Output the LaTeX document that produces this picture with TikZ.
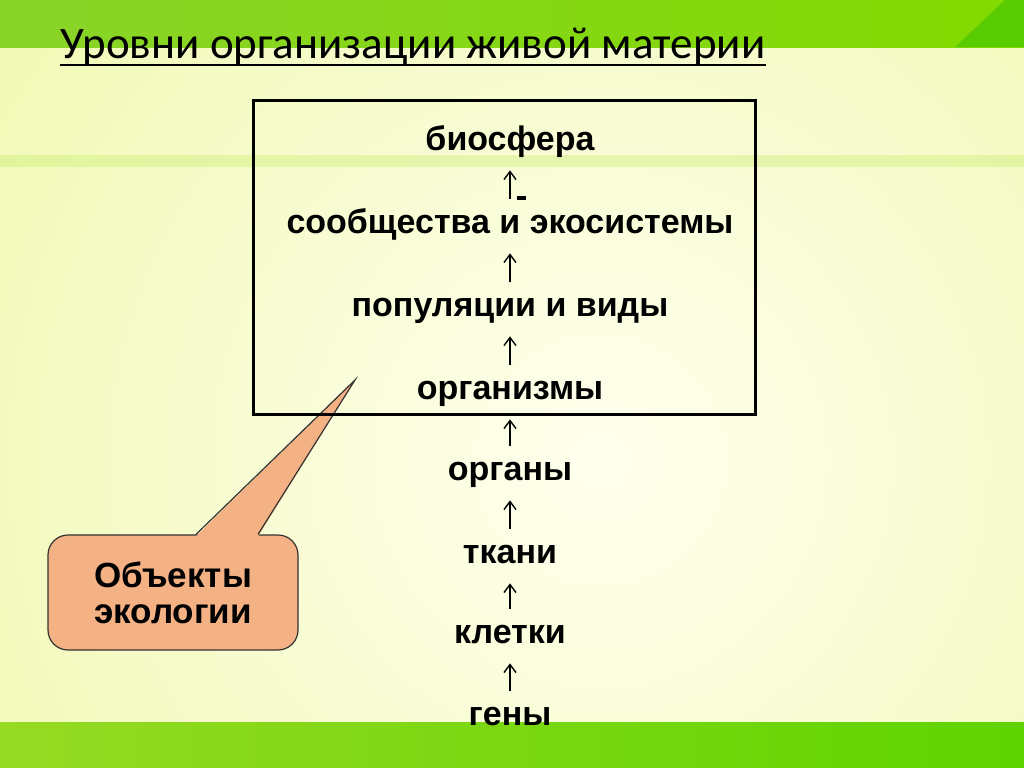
\documentclass[tikz,border=0pt]{standalone}
\usepackage{fontspec}
\setmainfont{Liberation Sans}
\newfontfamily\titlefont{Carlito}
\usetikzlibrary{arrows.meta}
\definecolor{bgouter}{RGB}{241,249,182}
\definecolor{bginner}{RGB}{255,255,238}
\definecolor{topleft}{RGB}{138,212,42}
\definecolor{topmid}{RGB}{196,236,72}
\definecolor{topright}{RGB}{130,218,0}
\definecolor{cornergreen}{RGB}{88,204,0}
\definecolor{botleft}{RGB}{150,218,35}
\definecolor{botright}{RGB}{95,212,0}
\definecolor{stripegreen}{RGB}{196,236,100}
\definecolor{bubbleorange}{RGB}{244,177,131}
\tikzset{
	heading/.style={font=\titlefont\fontsize{22.5}{27}\selectfont, anchor=base west, inner sep=0pt},
	level/.style={font=\bfseries\fontsize{17}{20}\selectfont, inner sep=0pt, text height=12pt, text depth=4pt, anchor=base},
	uparrow/.style={-{Straight Barb[length=4pt,width=6pt]}, line width=0.7pt, shorten <=5pt, shorten >=6pt},
	frame/.style={line width=1.5pt},
	bubble/.style={draw=black!80, line width=0.6pt, fill=bubbleorange, rounded corners=10pt, minimum width=125pt, minimum height=57.5pt, align=center, inner sep=0pt, font=\bfseries\fontsize{17.5}{18}\selectfont},
	bubbleline/.style={draw=black!80, line width=0.6pt}
}

\begin{document}
\begin{tikzpicture}[x=0.5pt, y=-0.5pt]
			%%%%% START %%%%%
			\useasboundingbox (0,0) rectangle (1024,767);
			
			% background
			\fill[bgouter] (0,0) rectangle (1024,767);
			\begin{scope}
				\clip (0,0) rectangle (1024,767);
				\shade[inner color=bginner, outer color=bgouter] (600,460) circle (720);
			\end{scope}
			\shade[left color=topleft, middle color=topmid, right color=topright] (0,0) rectangle (1024,47);
			\fill[cornergreen] (955,47) -- (1024,47) -- (1024,0) -- (1005,0) -- cycle;
			\fill[stripegreen, opacity=0.35] (0,155) rectangle (1024,167);
			\shade[left color=botleft, right color=botright] (0,722) rectangle (1024,767);
			
			% title
			\node[heading] (title) at (60,58) {Уровни организации живой материи};
			\draw[line width=1pt] ([yshift=-3.5pt]title.base west) -- ([yshift=-3.5pt]title.base east);
			
			% levels
			\node[level] (bio) at (510,150) {биосфера};
			\node[level] (comm) at (510,233) {сообщества и экосистемы};
			\node[level] (pop) at (510,316) {популяции и виды};
			\node[level] (orgm) at (510,399) {организмы};
			\node[level] (organs) at (510,480) {органы};
			\node[level] (tiss) at (510,563) {ткани};
			\node[level] (cells) at (510,643) {клетки};
			\node[level] (genes) at (510,725) {гены};
			\fill (517,195.5) rectangle (526,199.5);
			
			\draw[uparrow] (comm.north) -- (bio.south);
			\draw[uparrow] (pop.north) -- (comm.south);
			\draw[uparrow] (orgm.north) -- (pop.south);
			\draw[uparrow] (organs.north) -- (orgm.south);
			\draw[uparrow] (tiss.north) -- (organs.south);
			\draw[uparrow] (cells.north) -- (tiss.south);
			\draw[uparrow] (genes.north) -- (cells.south);
			
			% callout
			\node[bubble] (objects) at (173,592.5) {Объекты\\экологии};
			\coordinate (tip) at (355,380);
			\fill[bubbleorange] ([xshift=11.5pt,yshift=-1pt]objects.north) -- (tip) -- ([xshift=42.5pt,yshift=-1pt]objects.north) -- cycle;
			\draw[bubbleline] ([xshift=11.5pt]objects.north) -- (tip) -- ([xshift=42.5pt]objects.north);
			
			\draw[frame] (253,100) rectangle (755,414);
			%%%%% END %%%%%
\end{tikzpicture}
\end{document}
